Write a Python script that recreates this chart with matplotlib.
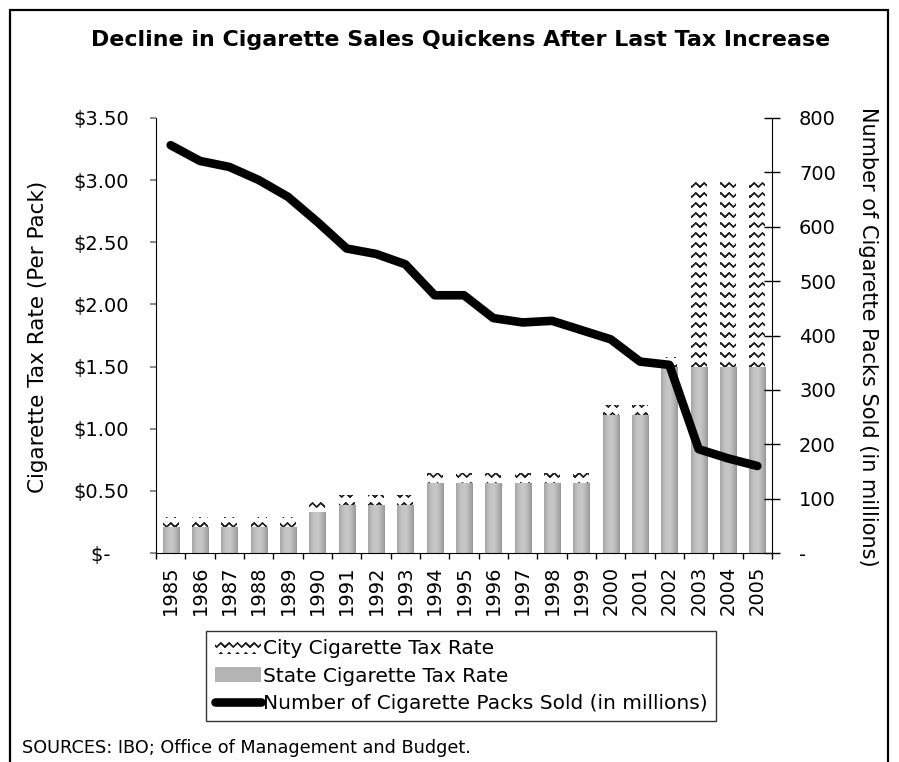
import warnings
import numpy as np
import matplotlib
matplotlib.use('Agg')
import matplotlib.pyplot as plt
import matplotlib.hatch as mhatch
from matplotlib.path import Path
from matplotlib.patches import Patch, Rectangle
from matplotlib.lines import Line2D

warnings.filterwarnings('ignore')

years = [str(y) for y in range(1985, 2006)]
state_tax = [0.21, 0.21, 0.21, 0.21, 0.21, 0.33, 0.39, 0.39, 0.39, 0.56, 0.56,
             0.56, 0.56, 0.56, 0.56, 1.11, 1.11, 1.50, 1.50, 1.50, 1.50]
city_tax = [0.08, 0.08, 0.08, 0.08, 0.08, 0.08, 0.08, 0.08, 0.08, 0.08, 0.08,
            0.08, 0.08, 0.08, 0.08, 0.08, 0.08, 0.08, 1.50, 1.50, 1.50]
packs_sold = [750, 721, 710, 686, 655, 609, 560, 550, 531, 474, 474,
              432, 424, 427, 410, 393, 352, 346, 191, 174, 160]

left_ticks = [0, 0.5, 1.0, 1.5, 2.0, 2.5, 3.0, 3.5]
left_labels = ['$-   ', '$0.50', '$1.00', '$1.50', '$2.00', '$2.50', '$3.00', '$3.50']
right_ticks = [0, 100, 200, 300, 400, 500, 600, 700, 800]
right_labels = ['-', '100', '200', '300', '400', '500', '600', '700', '800']


# zigzag hatch for the city part of the bars (drawn forward and back so it has no area)
class WaveHatch(mhatch.HatchPatternBase):
    def __init__(self, hatch, density):
        self.rows = 10 * hatch.count('~')
        self.waves = 12
        self.n = 2 * self.waves + 1
        self.num_vertices = self.rows * (2 * self.n - 1)

    def set_vertices_and_codes(self, vertices, codes):
        n = self.n
        xs = np.linspace(0, 1, n)
        ys = 0.04 * (np.arange(n) % 2)
        xs = np.concatenate([xs, xs[-2::-1]])
        ys = np.concatenate([ys, ys[-2::-1]])
        m = 2 * n - 1
        for i in range(self.rows):
            seg = slice(i * m, (i + 1) * m)
            vertices[seg, 0] = xs
            vertices[seg, 1] = (i + 0.3) / self.rows + ys
            codes[seg] = Path.LINETO
            codes[i * m] = Path.MOVETO


mhatch._hatch_types.append(WaveHatch)
plt.rcParams['hatch.linewidth'] = 1.0
plt.rcParams['font.family'] = 'DejaVu Sans'

fig = plt.figure(figsize=(8.99, 7.62), dpi=100)
ax = fig.add_axes([156 / 899, 1 - 553 / 762, (772 - 156) / 899, (553 - 118) / 762])
ax2 = ax.twinx()

x = np.arange(len(years))
w = 0.55

bars = ax.bar(x, state_tax, w, color='#b4b4b4', linewidth=0, zorder=2)
ax.bar(x, city_tax, w, bottom=state_tax, color='white', edgecolor='#222222',
       hatch='~', linewidth=0, zorder=2)

# cylinder-like shading on the state bars
t = np.linspace(0, 1, 64)
shade = 0.62 + 0.16 * np.cos((t - 0.45) * np.pi)
grad = np.repeat(shade[None, :, None], 3, axis=2)
for b in bars:
    im = ax.imshow(grad, extent=[b.get_x(), b.get_x() + b.get_width(), 0, b.get_height()],
                   aspect='auto', zorder=2.5, interpolation='bilinear')
    im.set_clip_path(b)

ax2.plot(x, packs_sold, color='black', lw=6.2, solid_capstyle='round',
         solid_joinstyle='round', zorder=5)

ax.set_xlim(-0.5, len(years) - 0.5)
ax.set_ylim(0, 3.5)
ax2.set_ylim(0, 800)

ax.set_xticks(x)
ax.set_xticklabels(years, rotation=90, fontsize=14)
ax.set_xticks(np.arange(len(years) + 1) - 0.5, minor=True)
ax.tick_params(axis='x', which='major', length=0, pad=9)
ax.tick_params(axis='x', which='minor', length=4.5, width=1, direction='out')

ax.set_yticks(left_ticks)
ax.set_yticklabels(left_labels, fontsize=14)
ax.tick_params(axis='y', length=4.5, width=1.2, color='#777777', pad=15)

ax2.set_yticks(right_ticks)
ax2.set_yticklabels(right_labels, fontsize=14)
ax2.tick_params(axis='y', direction='inout', length=11, width=1, pad=14)

for a in (ax, ax2):
    a.spines['top'].set_visible(False)
ax2.spines['left'].set_visible(False)
ax2.spines['bottom'].set_visible(False)
ax.spines['right'].set_visible(False)

ax.set_ylabel('Cigarette Tax Rate (Per Pack)', fontsize=15.5, va='center')
ax.yaxis.set_label_coords(-0.192, 0.497)
ax2.set_ylabel('Number of Cigarette Packs Sold (in millions)', fontsize=15,
               rotation=270, va='center')
ax2.yaxis.set_label_coords(1.156, 0.497)

fig.text(0.512, 1 - 40 / 762, 'Decline in Cigarette Sales Quickens After Last Tax Increase',
         ha='center', va='center', fontsize=15.9, fontweight='bold')

handles = [
    Patch(facecolor='white', edgecolor='#222222', hatch='~', linewidth=0),
    Patch(facecolor='#b4b4b4', linewidth=0),
    Line2D([], [], color='black', lw=6.2, solid_capstyle='round'),
]
labels = ['City Cigarette Tax Rate', 'State Cigarette Tax Rate',
          'Number of Cigarette Packs Sold (in millions)']
leg = fig.legend(handles, labels, loc='center', bbox_to_anchor=(461 / 899, 1 - 676 / 762),
                 fontsize=14.5, frameon=True, fancybox=False, edgecolor='black',
                 handlelength=2.3, handletextpad=0.1, labelspacing=0.4,
                 borderpad=0.4, borderaxespad=0)
leg.get_frame().set_linewidth(1.0)

fig.text(22 / 899, 1 - 748 / 762, 'SOURCES: IBO; Office of Management and Budget.',
         ha='left', va='center', fontsize=12.7)

fig.patches.append(Rectangle((10 / 899, -0.05), 878 / 899, 1.05 - 10 / 762,
                             transform=fig.transFigure, fill=False,
                             edgecolor='black', linewidth=1.6))

fig.savefig('out.png', dpi=100)
